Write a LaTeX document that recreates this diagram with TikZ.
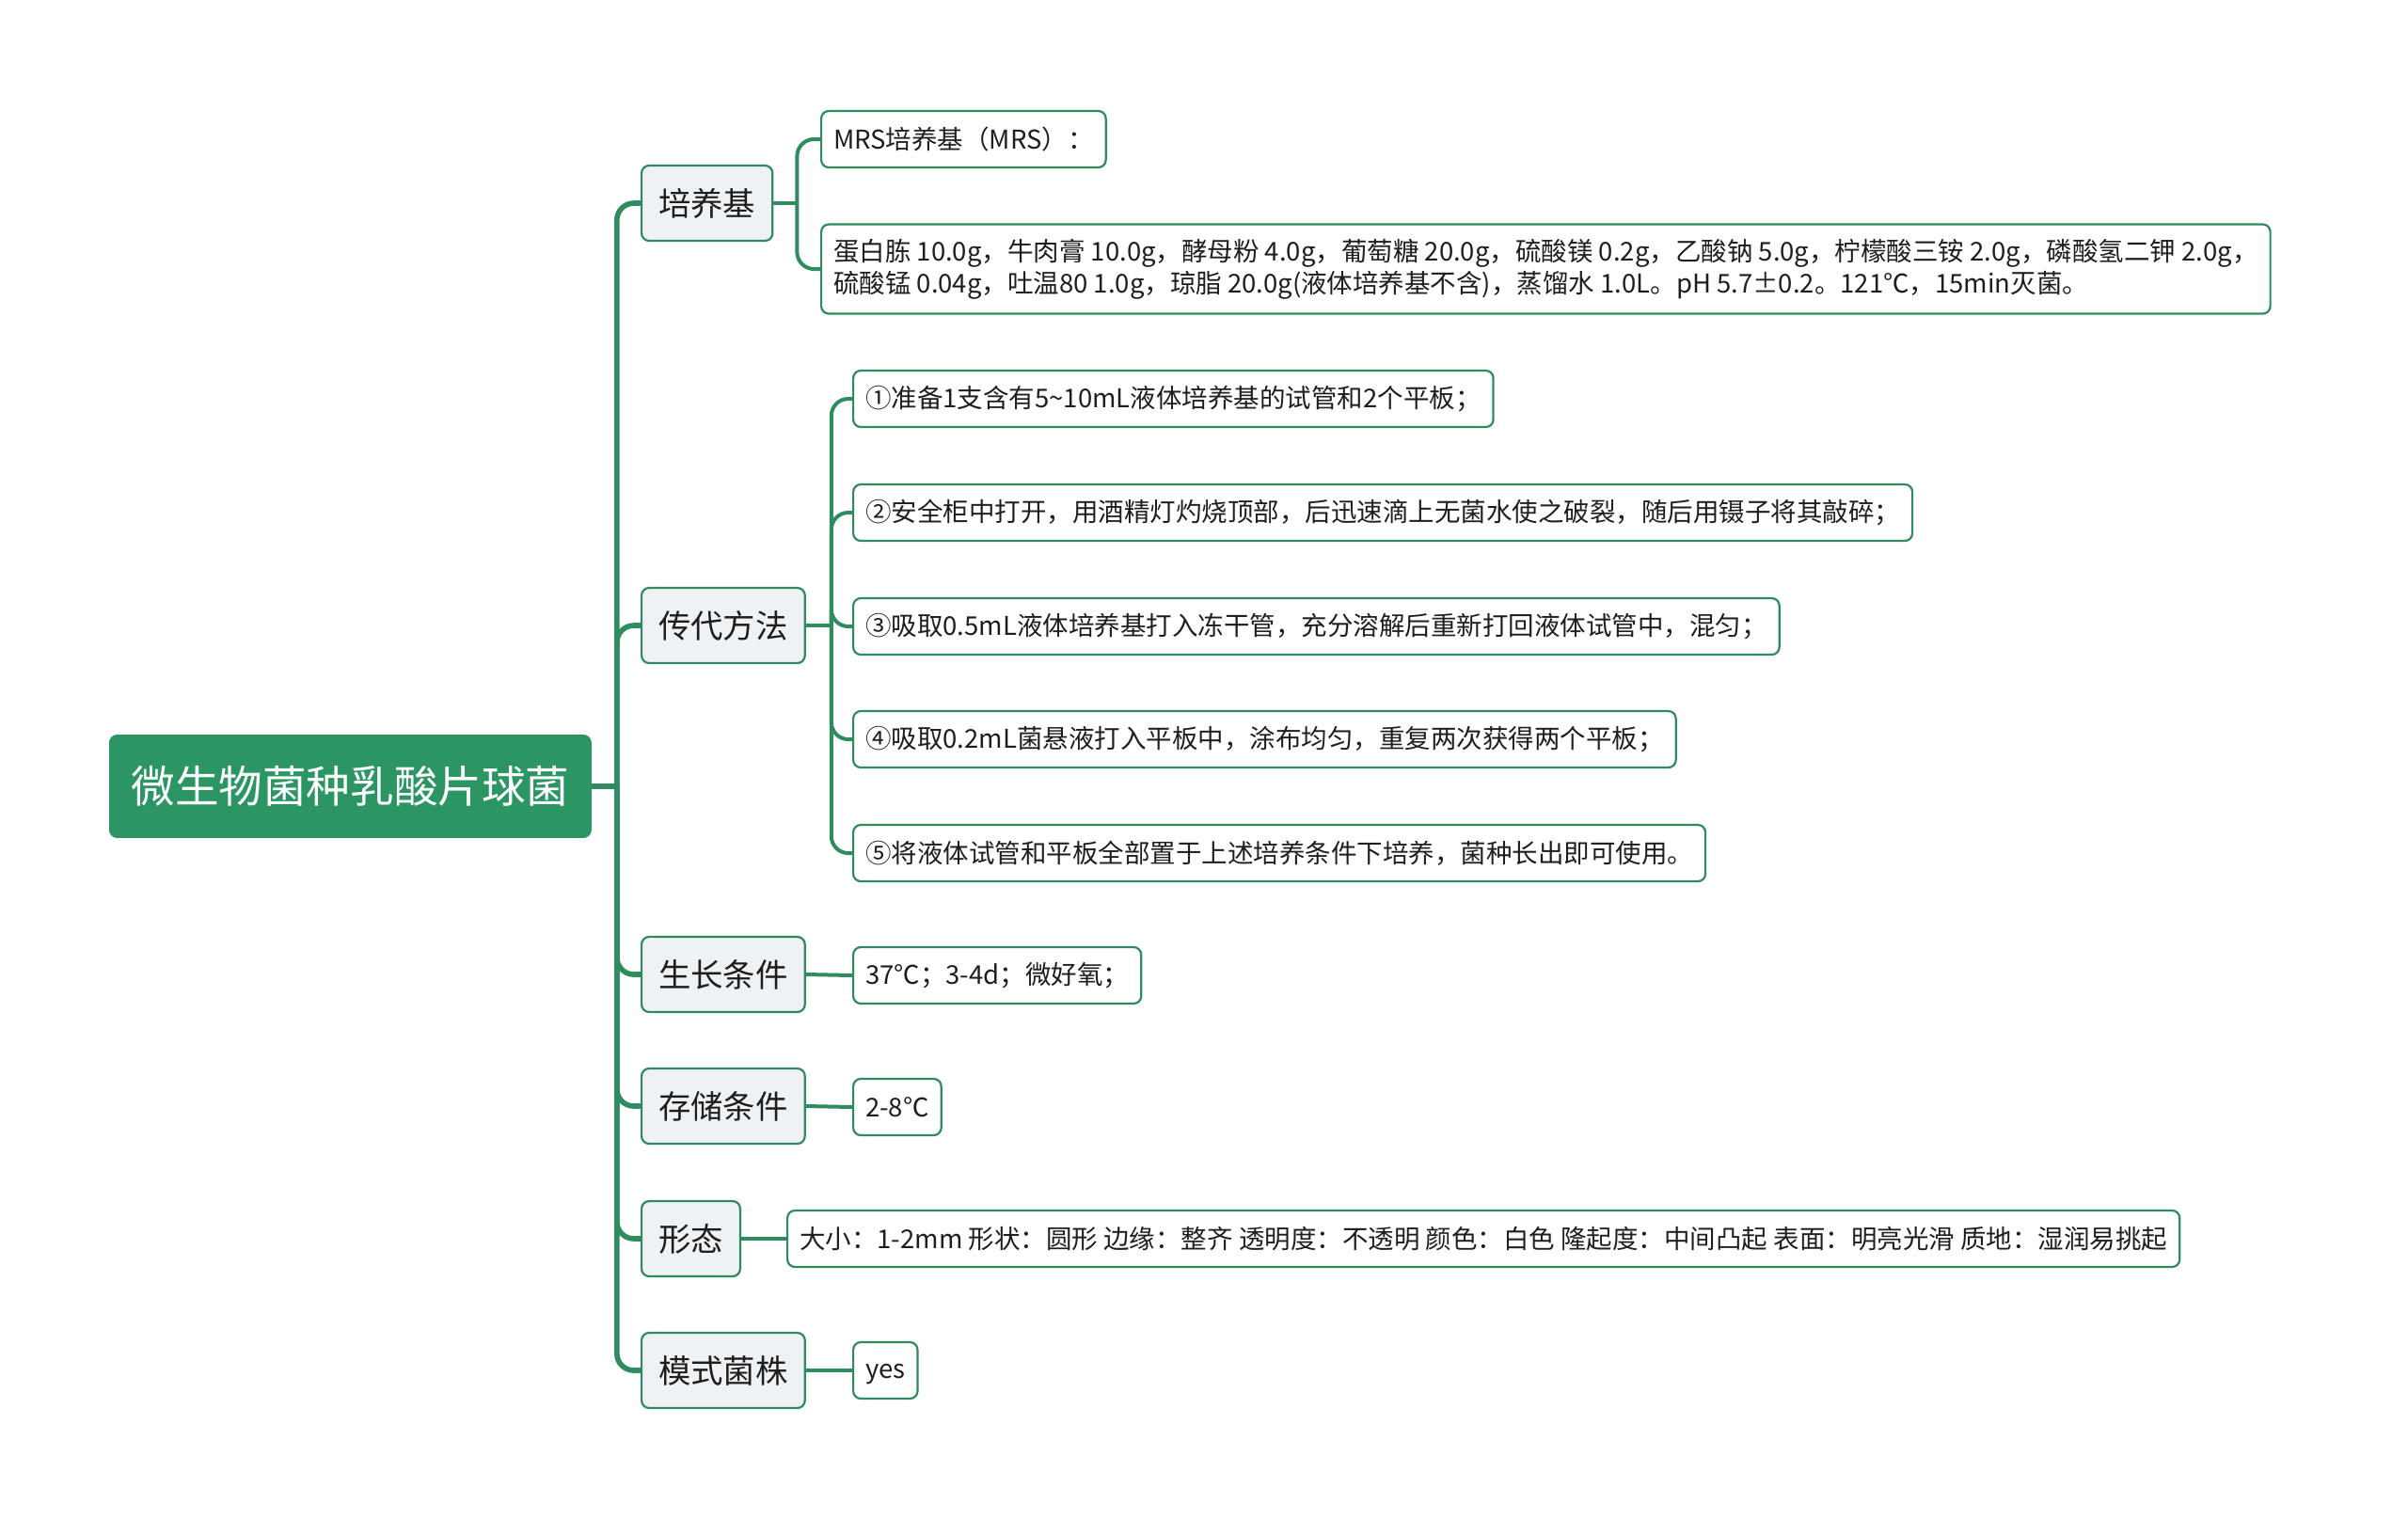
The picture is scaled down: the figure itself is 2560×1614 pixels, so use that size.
\documentclass[tikz,border=0pt]{standalone}
\usepackage{fontspec}
\setmainfont{Noto Sans CJK SC}
\usepackage{xcolor}
\usetikzlibrary{positioning, calc}
\definecolor{zhugreen}{RGB}{43,150,100}
\definecolor{xiangreen}{RGB}{46,140,94}
\definecolor{kuangreen}{RGB}{48,138,96}
\definecolor{qianhui}{RGB}{238,242,245}
\definecolor{wenzi}{RGB}{30,30,30}

\begin{document}
\begin{tikzpicture}[x=0.5pt, y=-0.5pt,
    rootbox/.style={fill=zhugreen, draw=zhugreen, rounded corners=4pt, text=white,
        font=\fontsize{23.3}{28}\selectfont, minimum height=54.5pt, inner xsep=11.5pt, anchor=west},
    topicbox/.style={fill=qianhui, draw=kuangreen, line width=1.1pt, rounded corners=4pt, text=wenzi,
        font=\fontsize{17.2}{21}\selectfont, minimum height=40pt, inner xsep=9pt, anchor=west},
    leafbox/.style={fill=white, draw=kuangreen, line width=1.1pt, rounded corners=4pt, text=wenzi,
        font=\fontsize{13.75}{17.2}\selectfont, minimum height=30pt, inner xsep=6.5pt, anchor=west, align=left},
    trunk/.style={draw=xiangreen, line width=2.8pt, rounded corners=9pt},
    twig/.style={draw=xiangreen, line width=2pt, rounded corners=9pt}]
    \useasboundingbox (0,0) rectangle (2560,1614);

    % 中心主题
    \node[rootbox] (root) at (116,836) {微生物菌种乳酸片球菌};

    % 一级分支
    \node[topicbox] (pyj) at (681,216) {培养基};
    \node[topicbox] (cdff) at (681,665) {传代方法};
    \node[topicbox] (sztj) at (681,1036) {生长条件};
    \node[topicbox] (cctj) at (681,1176) {存储条件};
    \node[topicbox] (xt) at (681,1317) {形态};
    \node[topicbox] (msjz) at (681,1457) {模式菌株};

    % 培养基
    \node[leafbox] (pyj1) at (872,148) {MRS培养基（MRS）：};
    \node[leafbox, minimum height=47.5pt] (pyj2) at (872,286)
        {蛋白胨 10.0g，牛肉膏 10.0g，酵母粉 4.0g，葡萄糖 20.0g，硫酸镁 0.2g，乙酸钠 5.0g，柠檬酸三铵 2.0g，磷酸氢二钾 2.0g，\\
         硫酸锰 0.04g，吐温80 1.0g，琼脂 20.0g(液体培养基不含)，蒸馏水 1.0L。pH 5.7±0.2。121℃，15min灭菌。};

    % 传代方法
    \node[leafbox] (cd1) at (906,424) {①准备1支含有5\textasciitilde 10mL液体培养基的试管和2个平板；};
    \node[leafbox] (cd2) at (906,545) {②安全柜中打开，用酒精灯灼烧顶部，后迅速滴上无菌水使之破裂，随后用镊子将其敲碎；};
    \node[leafbox] (cd3) at (906,666) {③吸取0.5mL液体培养基打入冻干管，充分溶解后重新打回液体试管中，混匀；};
    \node[leafbox] (cd4) at (906,786) {④吸取0.2mL菌悬液打入平板中，涂布均匀，重复两次获得两个平板；};
    \node[leafbox] (cd5) at (906,907) {⑤将液体试管和平板全部置于上述培养条件下培养，菌种长出即可使用。};

    % 其余
    \node[leafbox] (sz1) at (906,1037) {37℃；3-4d；微好氧；};
    \node[leafbox] (cc1) at (906,1177) {2-8℃};
    \node[leafbox] (xt1) at (836,1317) {大小：1-2mm 形状：圆形 边缘：整齐 透明度：不透明 颜色：白色 隆起度：中间凸起 表面：明亮光滑 质地：湿润易挑起};
    \node[leafbox, text height=11.5pt, text depth=3pt] (ms1) at (906,1457) {yes};

    % 连线
    \coordinate (j0) at ($(root.east)+(27,0)$);
    \draw[trunk] (root.east) -- (j0);
    \foreach \t in {pyj,cdff,sztj,cctj,xt,msjz}
        \draw[trunk] (j0) |- (\t.west);

    \coordinate (j1) at ($(pyj.east)+(25,0)$);
    \draw[twig] (pyj.east) -- (j1);
    \foreach \c in {pyj1,pyj2}
        \draw[twig] (j1) |- (\c.west);

    \coordinate (j2) at ($(cdff.east)+(27,0)$);
    \draw[twig] (cdff.east) -- (j2);
    \foreach \c in {cd1,cd2,cd3,cd4,cd5}
        \draw[twig] (j2) |- (\c.west);

    \draw[twig] (sztj.east) -- (sz1.west);
    \draw[twig] (cctj.east) -- (cc1.west);
    \draw[twig] (xt.east) -- (xt1.west);
    \draw[twig] (msjz.east) -- (ms1.west);
\end{tikzpicture}
\end{document}
